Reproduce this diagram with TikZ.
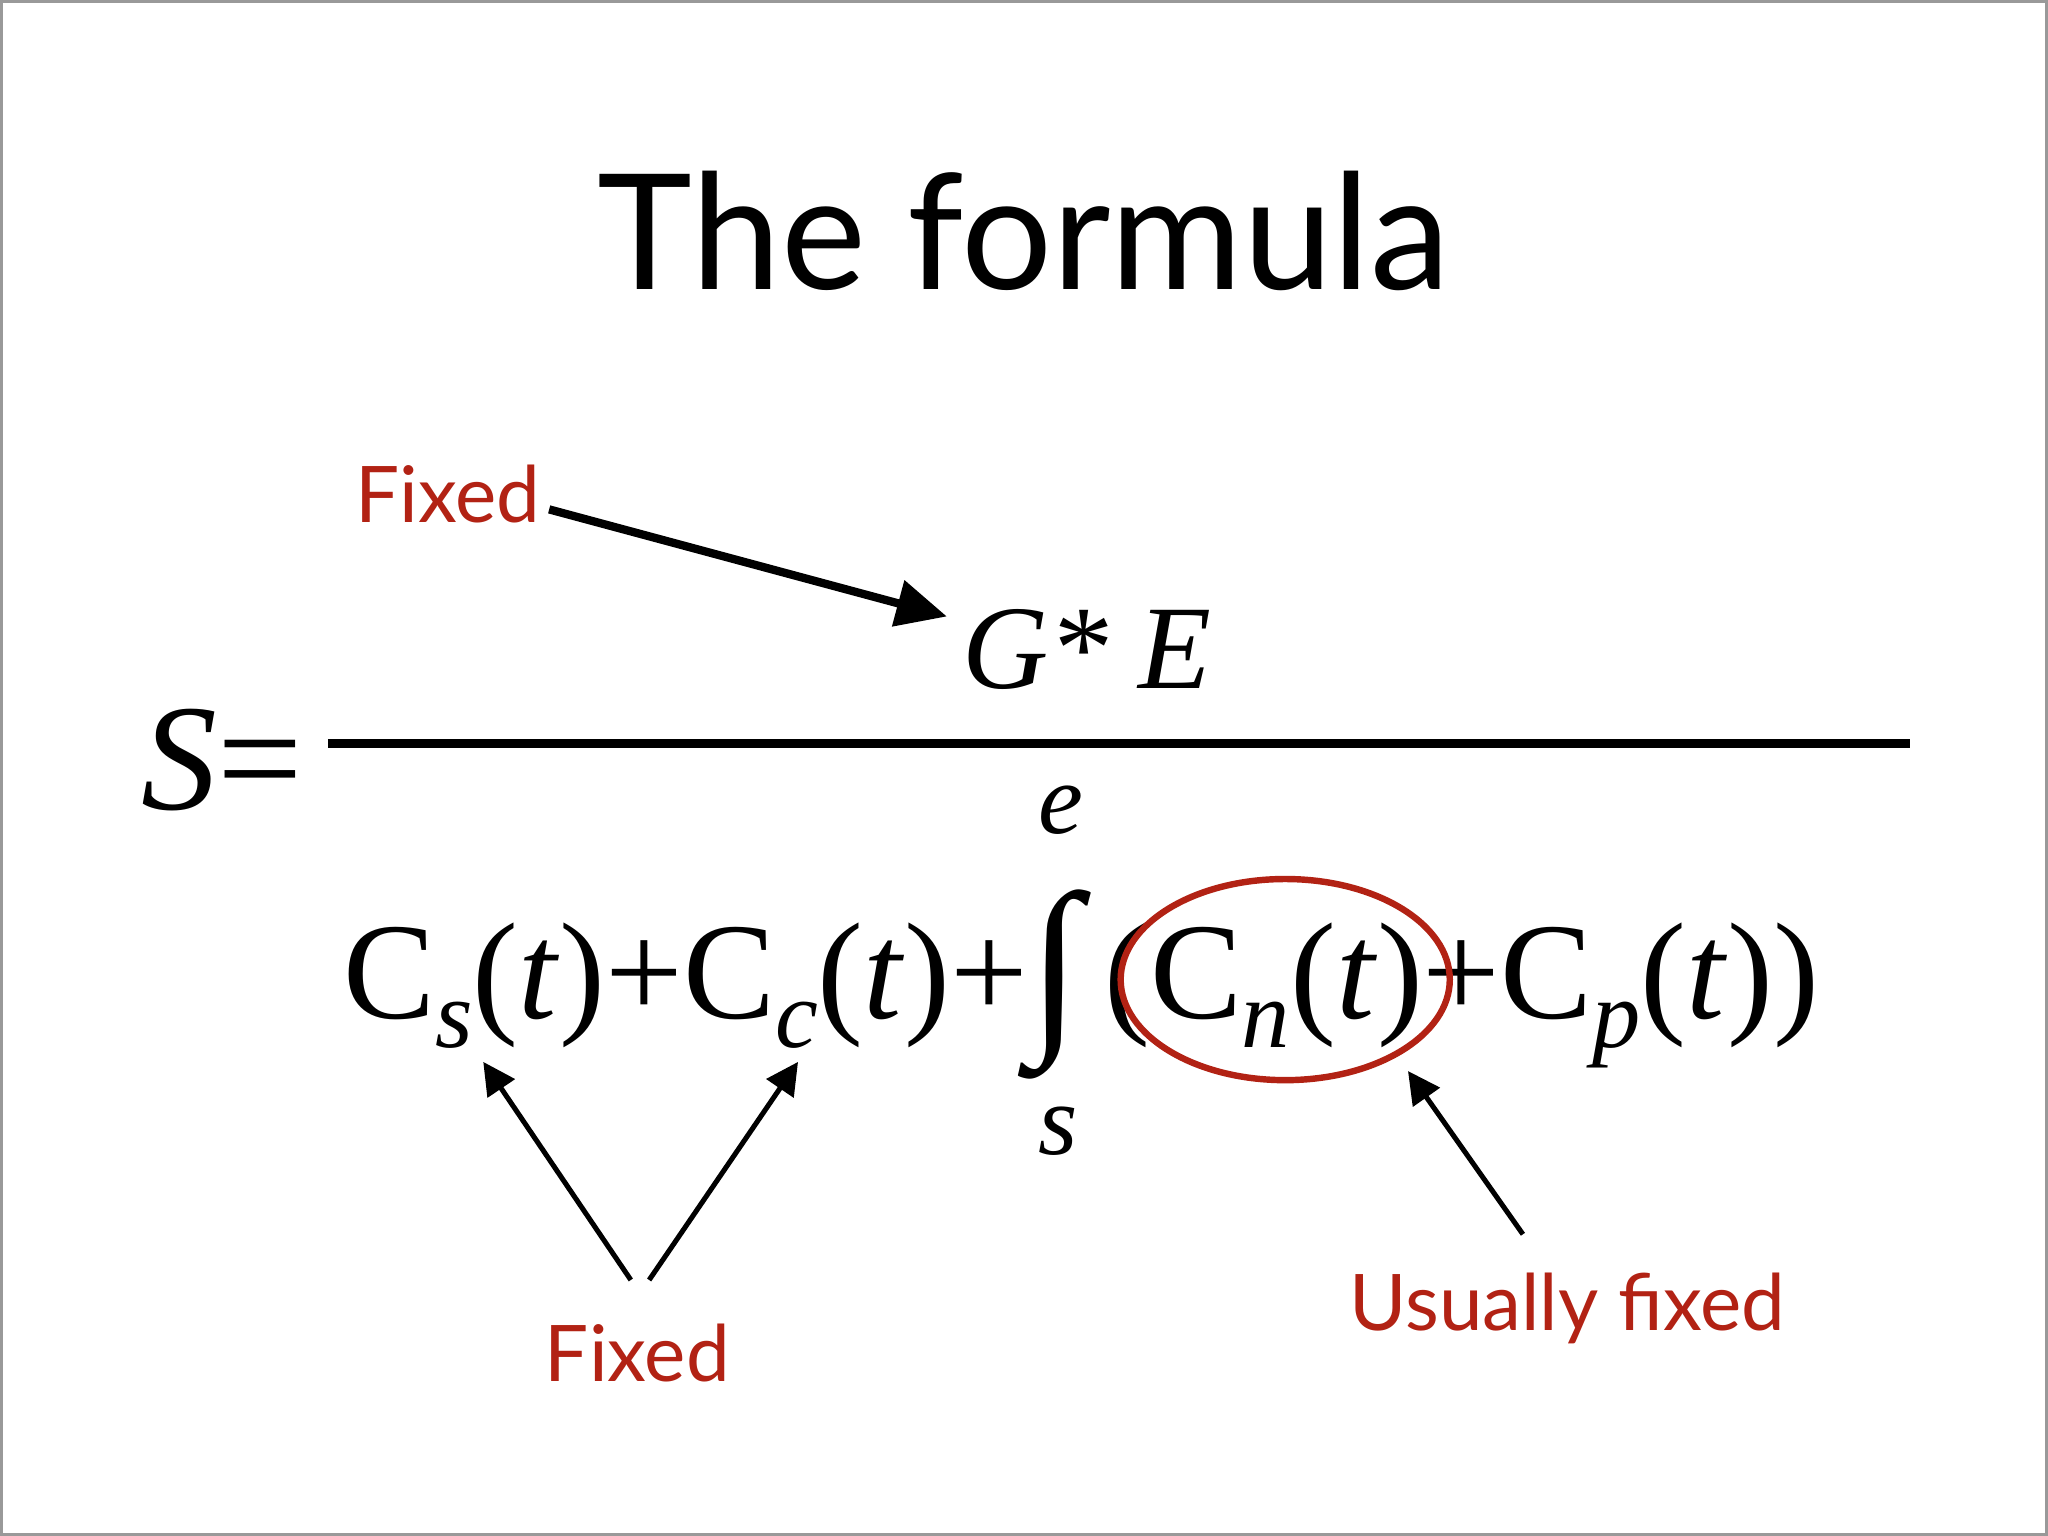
\documentclass[tikz,border=0pt]{standalone}
\usepackage{fontspec}
\setmainfont{Liberation Serif}
\newfontfamily\gsans{Lato}
\usetikzlibrary{arrows.meta}
\definecolor{fred}{RGB}{178,34,20}
\tikzset{
  lbl/.style={font=\gsans\fontsize{17}{17}\selectfont, text=fred, inner sep=0pt},
  thinarr/.style={line width=1.1pt, -{Triangle[length=7pt,width=7pt]}},
}
\newcommand{\sub}[1]{\raisebox{-0.45ex}{\fontsize{21}{21}\selectfont\itshape #1}}
\begin{document}
\begin{tikzpicture}[x=0.01cm,y=-0.01cm]
\useasboundingbox (0,0) rectangle (1568,1176);
\draw[black!40, line width=0.8pt] (1,1) rectangle (1567,1175);
\node[font=\gsans\fontsize{35}{35}\selectfont, inner sep=0pt] (title) at (784,177) {The formula};
\node[lbl] (fix1) at (343,378) {Fixed};
\node[font=\fontsize{26}{26}\selectfont\itshape, inner sep=0pt] (num) at (832,497) {G* E};
\node[font=\fontsize{33}{33}\selectfont\itshape, inner sep=0pt] (S) at (170,582) {S\upshape=};
\draw[line width=2pt] (251,569) -- (1462,569);
\node[font=\fontsize{22}{22}\selectfont\itshape, inner sep=0pt] (e) at (812,620) {e};
\node[font=\fontsize{22}{22}\selectfont\itshape, inner sep=0pt] (s) at (810,866) {s};
\node[font=\fontsize{30}{30}\selectfont, inner sep=0pt, anchor=base west] (den) at (262,780)
 {C\sub{s}(\textit{t})+C\sub{c}(\textit{t})+{\fontsize{42}{42}\selectfont\raisebox{-0.1ex}{∫}}\,(C\sub{n}(\textit{t})+C\sub{p}(\textit{t}))};
\draw[fred, line width=1.4pt] (984,750) ellipse [x radius=126, y radius=77];
\coordinate (ft) at (725,472);
\draw[line width=1.8pt, -{Triangle[length=11pt,width=10pt]}] (fix1.east) ++(6,12) -- (ft);
\node[lbl] (fix2) at (488,1036) {Fixed};
\node[lbl] (uf) at (1200,1002) {Usually fixed};
\coordinate (a1) at (483,980); \coordinate (t1) at (370,813);
\coordinate (a2) at (497,980); \coordinate (t2) at (611,813);
\coordinate (a3) at (1166,945); \coordinate (t3) at (1078,820);
\draw[thinarr] (a1) -- (t1);
\draw[thinarr] (a2) -- (t2);
\draw[thinarr] (a3) -- (t3);
\end{tikzpicture}
\end{document}
